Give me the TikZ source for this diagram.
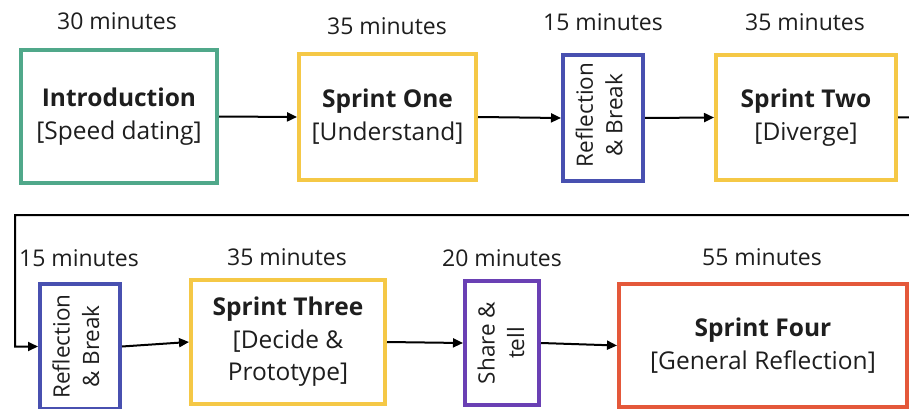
\documentclass[tikz,border=0pt]{standalone}
\usepackage{fontspec}
\setmainfont{Open Sans}
\usetikzlibrary{arrows.meta}
\definecolor{cgreen}{RGB}{80,168,138}
\definecolor{cyellow}{RGB}{245,200,70}
\definecolor{cblue}{RGB}{72,80,176}
\definecolor{cpurple}{RGB}{106,64,180}
\definecolor{cred}{RGB}{228,88,58}
\definecolor{ctext}{RGB}{30,30,30}
\tikzset{
  box/.style={draw=#1, line width=4pt, rectangle, inner sep=0pt, align=center,
    text=ctext, font=\fontsize{24.5}{32}\selectfont},
  rottext/.style={rotate=90, align=center, text=ctext, inner sep=0pt,
    font=\fontsize{22.5}{29.5}\selectfont},
  dur/.style={text=ctext, inner sep=0pt, font=\fontsize{23}{27}\selectfont},
  flow/.style={line width=2pt, -{Triangle[length=10pt,width=9pt]}},
}
\begin{document}
\begin{tikzpicture}[x=1pt,y=-1pt]
\clip (0,0) rectangle (909,409);
\fill[white] (0,0) rectangle (909,409);

% row 1
\node[box=cgreen, minimum width=196pt, minimum height=133pt] (intro) at (119,116.5)
  {\textbf{Introduction}\\[1pt][Speed dating]};
\node[box=cyellow, minimum width=177pt, minimum height=126pt] (s1) at (387.5,117)
  {\textbf{Sprint One}\\[1pt][Understand]};
\node[box=cblue, minimum width=80pt, minimum height=126pt] (r1) at (603,118) {};
\node[rottext] at ([xshift=-4pt,yshift=3pt]r1.center) {Reflection\\\& Break};
\node[box=cyellow, minimum width=180pt, minimum height=125pt] (s2) at (806,117.5)
  {\textbf{Sprint Two}\\[1pt][Diverge]};

\node[dur] (d1) at (117,21) {30 minutes};
\node[dur] (d2) at (387,26) {35 minutes};
\node[dur] (d3) at (603,22) {15 minutes};
\node[dur] (d4) at (805,22) {35 minutes};

% row 2
\node[box=cblue, minimum width=80pt, minimum height=125pt] (r2) at (80,346.5) {};
\node[rottext] at ([xshift=-4pt]r2.center) {Reflection\\\& Break};
\node[box=cyellow, minimum width=194pt, minimum height=124pt] (s3) at (288,342)
  {\textbf{Sprint Three}\\[1pt][Decide \&\\Prototype]};
\node[box=cpurple, minimum width=74pt, minimum height=124pt] (sh) at (502,343) {};
\node[rottext] at ([xshift=-1pt]sh.center) {Share \&\\tell};
\node[box=cred, minimum width=288pt, minimum height=123pt] (s4) at (763,345.5)
  {\textbf{Sprint Four}\\[1pt][General Reflection]};

\node[dur] (d5) at (79,258) {15 minutes};
\node[dur] (d6) at (287,257) {35 minutes};
\node[dur] (d7) at (502,258) {20 minutes};
\node[dur] (d8) at (762,257) {55 minutes};

% connectors
\coordinate (c1) at (930,117);
\coordinate (c2) at (930,215);
\coordinate (c3) at (15,215);
\draw[flow] (intro.east) -- (s1.west);
\draw[flow] (s1.east) -- (r1.west);
\draw[flow] (r1.east) -- (s2.west);
\draw[flow] (s2.east) -- (c1) -- (c2) -- (c3) |- (r2.west);
\draw[flow] (r2.east) -- (s3.west);
\draw[flow] (s3.east) -- (sh.west);
\draw[flow] (sh.east) -- (s4.west);
\end{tikzpicture}
\end{document}
